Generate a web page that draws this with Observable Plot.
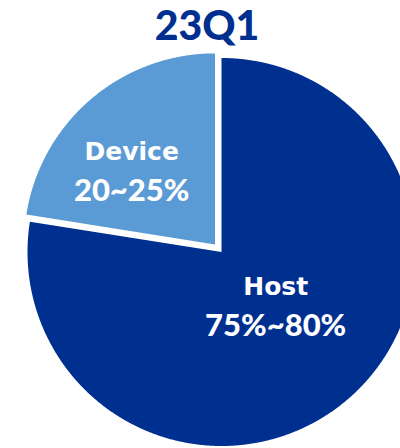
<!DOCTYPE html>
<html>
<head>
<meta charset="utf-8">
<script src="https://cdn.jsdelivr.net/npm/d3@7"></script>
<script src="https://cdn.jsdelivr.net/npm/@observablehq/plot@0.6"></script>
<style>
  html, body { margin: 0; padding: 0; background: #fff; overflow: hidden; }
  #title { height: 52px; line-height: 50px; font-family: Lato, "Open Sans", sans-serif; font-weight: 900;
           font-size: 41px; color: #00308F; text-align: center; padding-left: 14px; box-sizing: border-box; width: 400px; }
</style>
</head>
<body>
<div id="title"></div>
<div id="chart"></div>
<script>
// ---- data ----
const title = "23Q1";
const categories = ["Host", "Device"];
const shares = [77.5, 22.5];
const rangeLabels = ["75%~80%", "20~25%"];
const colors = ["#00308F", "#5B9BD5"];

document.getElementById("title").textContent = title;

// ---- layout ----
const W = 400, H = 396;
const cx = 221, cy = 199.5;
const radius = {Host: 194, Device: 191};
const explode = {Host: 0, Device: 10};
const labelPos = {Host: [0.43, 0], Device: [0.55, -12]}; // radius fraction, angle offset (deg)

const arcs = d3.pie().sort(null).startAngle(0).endAngle(2 * Math.PI)(shares);

const polyPts = [];
const labels = [];
arcs.forEach((a, i) => {
  const name = categories[i];
  const mid = (a.startAngle + a.endAngle) / 2;
  const ox = cx + explode[name] * Math.sin(mid);
  const oy = cy - explode[name] * Math.cos(mid);
  const r = radius[name];
  polyPts.push({name, x: ox, y: oy});
  const n = Math.ceil((a.endAngle - a.startAngle) / (Math.PI / 720));
  for (let k = 0; k <= n; k++) {
    const t = a.startAngle + (a.endAngle - a.startAngle) * k / n;
    polyPts.push({name, x: ox + r * Math.sin(t), y: oy - r * Math.cos(t)});
  }
  polyPts.push({name, x: ox, y: oy});
  const [f, dAng] = labelPos[name];
  const la = mid + dAng * Math.PI / 180;
  labels.push({name, range: rangeLabels[i], x: ox + f * r * Math.sin(la), y: oy - f * r * Math.cos(la)});
});

const chart = Plot.plot({
  width: W, height: H,
  margin: 0,
  x: {domain: [0, W], range: [0, W], axis: null},
  y: {domain: [0, H], range: [0, H], axis: null},
  color: {domain: categories, range: colors},
  style: {background: "#fff"},
  marks: [
    Plot.line(polyPts, {x: "x", y: "y", z: "name", fill: "name", stroke: "none", curve: "linear", clip: true}),
    Plot.text(labels, {x: "x", y: "y", text: "name", fill: "white", fontSize: 25, fontWeight: "bold",
      fontFamily: "'DejaVu Sans', sans-serif", lineAnchor: "bottom", dy: -20.5}),
    Plot.text(labels, {x: "x", y: "y", text: "range", fill: "white", fontSize: 31, fontWeight: 900,
      fontFamily: "Lato, 'Open Sans', sans-serif", lineAnchor: "bottom", dy: 20.5})
  ]
});
document.getElementById("chart").appendChild(chart);
</script>
</body>
</html>
